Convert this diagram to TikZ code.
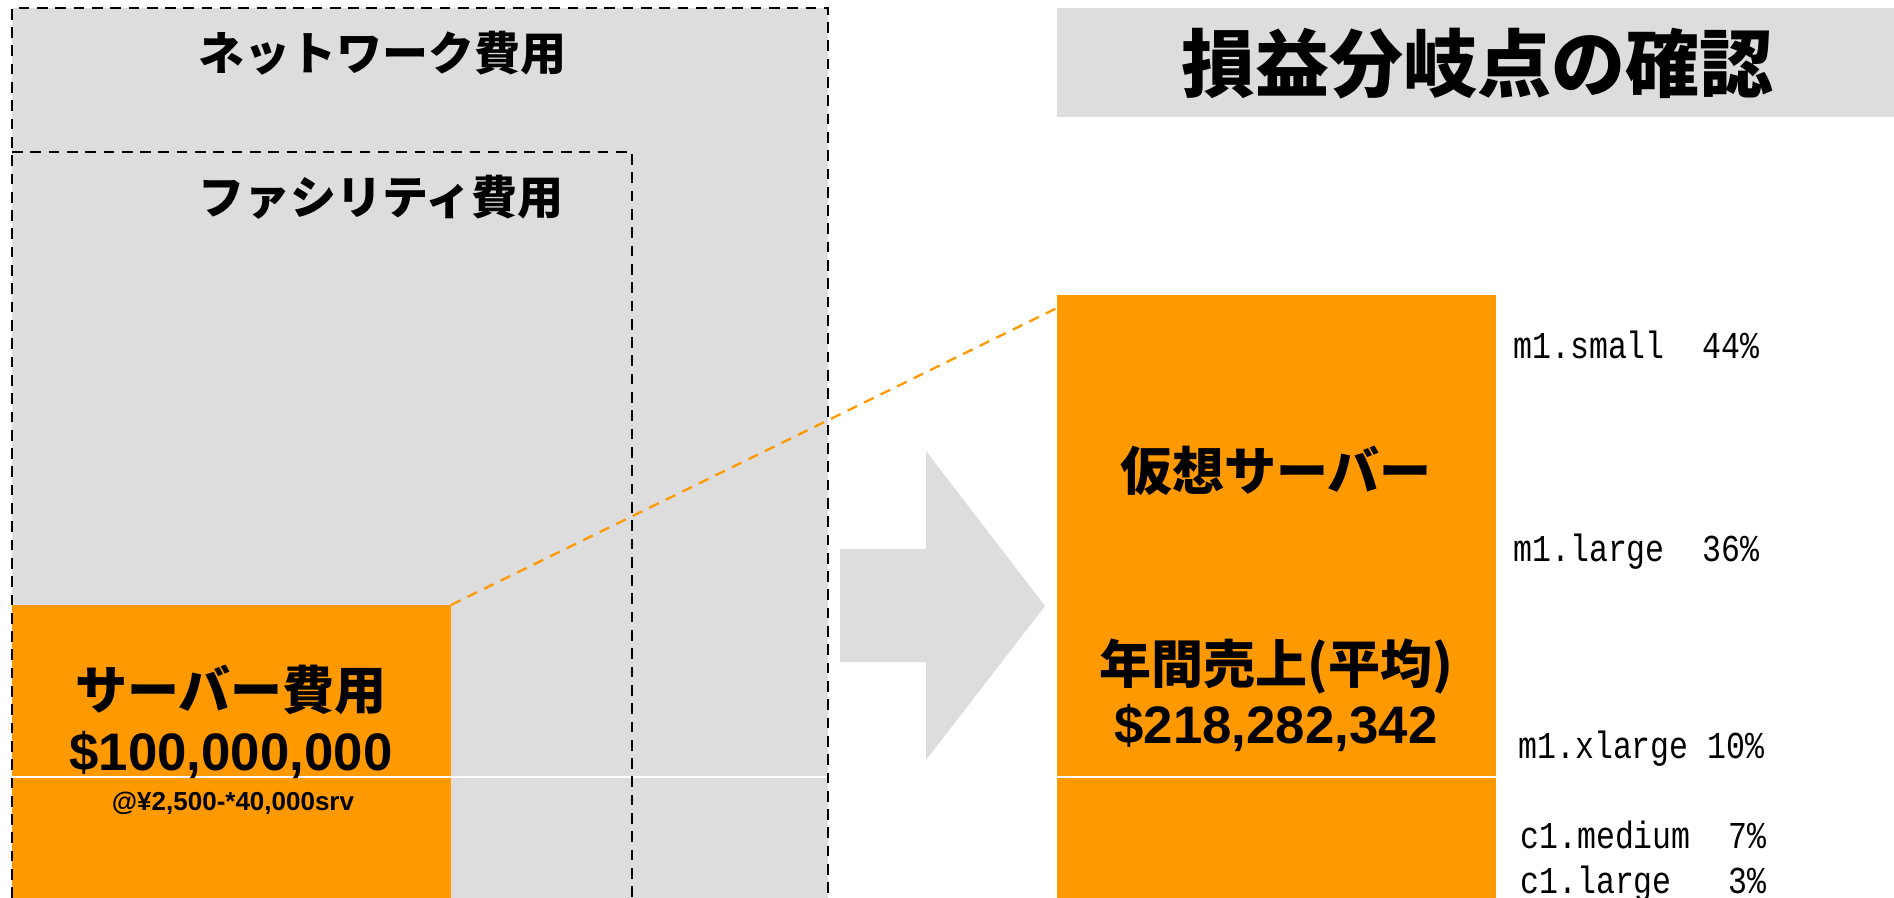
\documentclass[tikz,border=0pt]{standalone}
\usepackage{fontspec}
\setmainfont{Liberation Sans}
\newfontfamily\jp{Noto Sans CJK JP}
\newfontfamily\lbl[FakeStretch=0.83]{Liberation Mono}
\definecolor{og}{RGB}{255,153,0}
\definecolor{lg}{RGB}{221,221,221}
\tikzset{
  dashline/.style={draw=black, line width=1.35pt, dash pattern=on 5.35pt off 3.8pt},
  linkline/.style={draw=og, line width=1.15pt, dash pattern=on 5.3pt off 3.9pt},
  jpbig/.style={inner sep=0pt, font=\jp\bfseries\fontsize{26}{30}\selectfont},
  jpmid/.style={inner sep=0pt, font=\jp\bfseries\fontsize{23}{27}\selectfont},
  money/.style={inner sep=0pt, font=\bfseries\fontsize{26.4}{30}\selectfont},
  small/.style={inner sep=0pt, font=\bfseries\fontsize{13}{15}\selectfont},
  share/.style={inner sep=0pt, anchor=base west, font=\lbl\fontsize{19}{23}\selectfont},
}
\begin{document}
\begin{tikzpicture}[x=0.5pt, y=-0.5pt]
\useasboundingbox (0,0) rectangle (1894,898);
\fill[white] (0,0) rectangle (1894,898);
% grey cost area
\fill[lg] (12,8) rectangle (828,898);
% server cost box
\fill[og] (12,605) rectangle (451,898);
% title bar
\fill[lg] (1057,8) rectangle (1894,117);
% virtual server box
\fill[og] (1057,295) rectangle (1496,898);
% white guide line
\draw[white, line width=0.6pt] (12,777) -- (1496,777);
% dashed frames
\draw[dashline] (12,898) -- (12,8) -- (828,8) -- (828,898);
\draw[dashline] (12,152) -- (632,152) -- (632,898);
% big arrow
\fill[lg] (840,549) -- (926,549) -- (926,451) -- (1045,606) -- (926,760) -- (926,662) -- (840,662) -- cycle;
% connector
\coordinate (srvcorner) at (451,605);
\coordinate (vmedge) at (1057,308);
\draw[linkline] (srvcorner) -- (vmedge);
% texts
\node[jpmid] (net) at (382,53) {ネットワーク費用};
\node[jpmid] (fac) at (381,197) {ファシリティ費用};
\node[jpbig] (srv) at (231,690) {サーバー費用};
\node[money] (srvcost) at (231,755) {\$100,000,000};
\node[small] (srvnote) at (233,803) {@¥2,500-*40,000srv};
\node[inner sep=0pt, font=\jp\bfseries\fontsize{37}{42}\selectfont] (title) at (1477,64) {損益分岐点の確認};
\node[jpbig] (vm) at (1276,471) {仮想サーバー};
\node[jpbig] (rev) at (1276,666) {年間売上(平均)};
\node[money] (revval) at (1276,728) {\$218,282,342};
\node[share] (s1) at (1513,358) {m1.small\ \ 44\%};
\node[share] (s2) at (1513,561) {m1.large\ \ 36\%};
\node[share] (s3) at (1518,758) {m1.xlarge\ 10\%};
\node[share] (s4) at (1520,848) {c1.medium\ \ 7\%};
\node[share] (s5) at (1520,893) {c1.large\ \ \ 3\%};
\end{tikzpicture}
\end{document}
